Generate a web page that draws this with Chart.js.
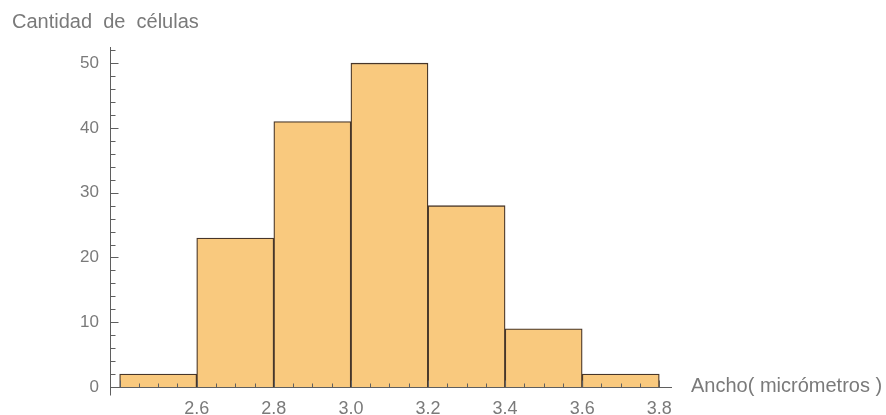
<!DOCTYPE html>
<html>
<head>
<meta charset="utf-8">
<script src="https://cdn.jsdelivr.net/npm/chart.js@4.4.1/dist/chart.umd.min.js"></script>
<style>
  html, body { margin: 0; padding: 0; background: #fff; }
  #wrap { position: relative; width: 886px; height: 415px; }
</style>
</head>
<body>
<div id="wrap"><canvas id="chart" width="886" height="415"></canvas></div>
<script>
// histogram data: bin edges and counts per bin
const binEdges = [2.4, 2.6, 2.8, 3.0, 3.2, 3.4, 3.6, 3.8];
const counts = [2, 23, 41, 50, 28, 9, 2];
const xTicks = [2.6, 2.8, 3.0, 3.2, 3.4, 3.6, 3.8];
const yTicks = [0, 10, 20, 30, 40, 50];
const yTitle = 'Cantidad  de  células';
const xTitle = 'Ancho( micrómetros )';

const axisColor = '#5f5f5f';
const labelColor = '#7a7a7a';
const fontFamily = '"Liberation Sans", Arial, sans-serif';

const points = counts.map((c, i) => ({ x: (binEdges[i] + binEdges[i + 1]) / 2, y: c }));

// axes, inward ticks and titles drawn the Mathematica way
const axesPlugin = {
  id: 'axes',
  afterDatasetsDraw(chart) {
    const { ctx, chartArea: a, scales: { x, y } } = chart;
    ctx.save();
    ctx.strokeStyle = axisColor;
    ctx.lineWidth = 1;
    const y0 = Math.round(y.getPixelForValue(0)) + 0.5;
    const x0 = Math.round(a.left) + 0.5;
    ctx.beginPath();
    ctx.moveTo(a.left, y0);
    ctx.lineTo(a.right, y0);
    ctx.moveTo(x0, a.top);
    ctx.lineTo(x0, y0 + 8);
    ctx.stroke();

    // x ticks every 0.05, major every 0.2
    ctx.beginPath();
    for (let k = 0; k <= 28; k++) {
      const v = 2.4 + k * 0.05;
      const px = Math.round(x.getPixelForValue(v)) + 0.5;
      const len = k % 4 === 0 ? 7 : 4;
      ctx.moveTo(px, y0);
      ctx.lineTo(px, y0 - len);
    }
    // y ticks every 2, major every 10
    for (let v = 0; v <= 52; v += 2) {
      const py = Math.round(y.getPixelForValue(v)) + 0.5;
      const len = v % 10 === 0 ? 8 : 5;
      ctx.moveTo(x0, py);
      ctx.lineTo(x0 + len, py);
    }
    ctx.stroke();

    ctx.fillStyle = labelColor;
    ctx.font = '20px ' + fontFamily;
    ctx.textBaseline = 'alphabetic';
    ctx.textAlign = 'left';
    ctx.fillText(yTitle, 12, 28);
    ctx.textBaseline = 'middle';
    ctx.fillText(xTitle, 691, y0 - 1);
    ctx.restore();
  }
};

new Chart(document.getElementById('chart'), {
  type: 'bar',
  data: {
    datasets: [{
      data: points,
      backgroundColor: '#f9c97e',
      borderColor: '#47362a',
      borderWidth: 1.3,
      borderSkipped: 'start',
      barPercentage: 1,
      categoryPercentage: 1
    }]
  },
  plugins: [axesPlugin],
  options: {
    responsive: false,
    animation: false,
    layout: { padding: { left: 0, right: 214, top: 47, bottom: 0 } },
    plugins: {
      legend: { display: false },
      tooltip: { enabled: false }
    },
    scales: {
      x: {
        type: 'linear',
        offset: false,
        min: 2.375,
        max: 3.833,
        afterBuildTicks: s => { s.ticks = xTicks.map(v => ({ value: v })); },
        afterFit: s => { s.height = 28; },
        grid: { display: false },
        border: { display: false },
        ticks: {
          color: labelColor,
          font: { family: fontFamily, size: 18 },
          padding: 3,
          maxRotation: 0,
          autoSkip: false,
          callback: v => v.toFixed(1)
        }
      },
      y: {
        min: 0,
        max: 52.5,
        afterBuildTicks: s => { s.ticks = yTicks.map(v => ({ value: v })); },
        afterFit: s => { s.width = 110; },
        grid: { display: false },
        border: { display: false },
        ticks: {
          color: labelColor,
          font: { family: fontFamily, size: 17 },
          padding: 3
        }
      }
    }
  }
});
</script>
</body>
</html>
